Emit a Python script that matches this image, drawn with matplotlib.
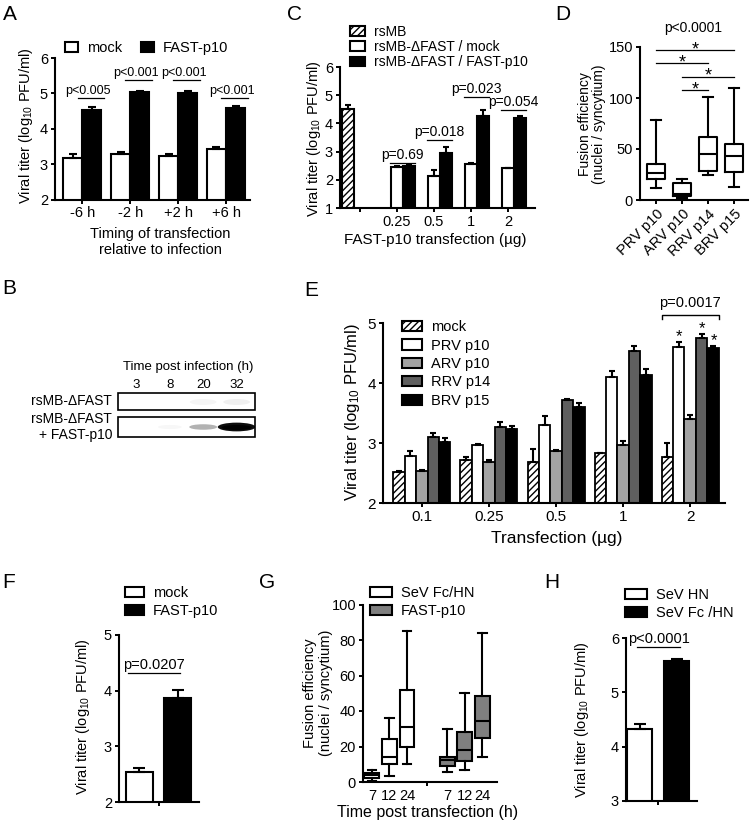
import numpy as np
import matplotlib
matplotlib.use('Agg')
import matplotlib.pyplot as plt
from matplotlib.patches import Patch, Rectangle, Ellipse

plt.rcParams['font.family'] = ['Liberation Sans', 'DejaVu Sans']
plt.rcParams['mathtext.default'] = 'regular'
plt.rcParams['hatch.linewidth'] = 1.0
plt.rcParams['axes.linewidth'] = 1.5

W, H = 750, 825

# ---------------- data ----------------
a_times = ['-6 h', '-2 h', '+2 h', '+6 h']
a_mock = [3.18, 3.30, 3.22, 3.42]
a_mock_err = [0.10, 0.03, 0.07, 0.05]
a_fast = [4.53, 5.05, 5.02, 4.60]
a_fast_err = [0.08, 0.03, 0.05, 0.03]
a_pvals = ['p<0.005', 'p<0.001', 'p<0.001', 'p<0.001']
a_pline = [4.87, 5.38, 5.38, 4.87]

b_lanes = ['3', '8', '20', '32']
b_row1 = [0.0, 0.0, 0.04, 0.06]
b_row2 = [0.0, 0.03, 0.30, 0.95]

c_doses = ['0.25', '0.5', '1', '2']
c_rsmb = 4.50
c_rsmb_err = 0.15
c_mock = [2.45, 2.15, 2.55, 2.43]
c_mock_err = [0.04, 0.20, 0.04, 0.0]
c_fast = [2.48, 2.95, 4.28, 4.20]
c_fast_err = [0.04, 0.20, 0.20, 0.08]
c_pvals = ['p=0.69', 'p=0.018', 'p=0.023', 'p=0.054']
c_pline = [2.60, 3.41, 4.93, 4.48]

d_names = ['PRV p10', 'ARV p10', 'RRV p14', 'BRV p15']
d_whislo = [12, 2, 25, 13]
d_q1 = [21, 4, 28, 27]
d_med = [26, 6, 45, 43]
d_q3 = [35, 17, 62, 55]
d_whishi = [78, 21, 101, 110]
d_pairs = [(0, 3), (0, 2), (1, 3), (1, 2)]
d_pair_y = [147, 134, 121, 108]

e_doses = ['0.1', '0.25', '0.5', '1', '2']
e_series = ['mock', 'PRV p10', 'ARV p10', 'RRV p14', 'BRV p15']
e_mock = [2.52, 2.72, 2.68, 2.83, 2.77]
e_mock_err = [0.02, 0.05, 0.22, 0.01, 0.23]
e_prv = [2.78, 2.96, 3.30, 4.10, 4.60]
e_prv_err = [0.08, 0.03, 0.15, 0.10, 0.08]
e_arv = [2.53, 2.68, 2.86, 2.97, 3.40]
e_arv_err = [0.02, 0.04, 0.02, 0.07, 0.06]
e_rrv = [3.10, 3.27, 3.72, 4.53, 4.75]
e_rrv_err = [0.07, 0.08, 0.02, 0.09, 0.06]
e_brv = [3.01, 3.23, 3.60, 4.14, 4.58]
e_brv_err = [0.08, 0.05, 0.07, 0.10, 0.03]
e_starred = [1, 3, 4]  # series with * at 2 ug

f_groups = ['mock', 'FAST-p10']
f_vals = [2.53, 3.87]
f_err = [0.08, 0.15]

g_hours = ['7', '12', '24']
g_sev_whislo = [0.5, 3.5, 10]
g_sev_q1 = [2, 10, 19.5]
g_sev_med = [4, 14, 31]
g_sev_q3 = [5, 24, 52]
g_sev_whishi = [6.5, 36, 85]
g_fast_whislo = [5.4, 6.5, 14]
g_fast_q1 = [9, 12, 25]
g_fast_med = [12.5, 18, 34.5]
g_fast_q3 = [14, 28, 48.5]
g_fast_whishi = [30, 50, 84]

h_groups = ['SeV HN', 'SeV Fc /HN']
h_vals = [4.32, 5.57]
h_err = [0.10, 0.05]

ylab_titer = 'Viral titer (log$_{10}$ PFU/ml)'
ylab_fusion = 'Fusion efficiency\n(nuclei / syncytium)'

# ---------------- helpers ----------------
fig = plt.figure(figsize=(7.5, 8.25), dpi=100)


def px_axes(l, t, r, b):
    return fig.add_axes([l / W, 1 - b / H, (r - l) / W, (b - t) / H])


def ftext(x, y, s, **kw):
    fig.text(x / W, 1 - y / H, s, **kw)


def style(ax, fs=10.5):
    ax.spines['top'].set_visible(False)
    ax.spines['right'].set_visible(False)
    ax.tick_params(direction='out', width=1.4, length=3, labelsize=fs, pad=2)


def upper_err(ax, x, y, err, cap=3):
    err = np.asarray(err, dtype=float)
    ax.errorbar(x, y, yerr=[np.zeros_like(err), err], fmt='none', ecolor='k',
                elinewidth=1.5, capsize=cap, capthick=1.5, zorder=3)


def pline(ax, x0, x1, y, label, fs=10, xt=None):
    ax.plot([x0, x1], [y, y], color='k', lw=0.9, clip_on=False)
    xt = (x0 + x1) / 2 if xt is None else xt
    ax.annotate(label, xy=(xt, y), xytext=(0, 3), textcoords='offset points',
                ha='center', va='baseline', fontsize=fs, annotation_clip=False)


def legend(ax, handles, x, y, fs, hl, hh, ls, ncol=1, cs=1.0):
    ax.legend(handles=handles, loc='center left', bbox_to_anchor=(x / W, 1 - y / H),
              bbox_transform=fig.transFigure, frameon=False, fontsize=fs, ncol=ncol,
              handlelength=hl, handleheight=hh, handletextpad=0.6, labelspacing=ls,
              columnspacing=cs, borderpad=0, borderaxespad=0)


def box(fc, label, hatch=None):
    return Patch(facecolor=fc, edgecolor='k', lw=1.5, hatch=hatch, label=label)


# ---------------- panel A ----------------
ax = px_axes(55, 58, 250, 199.5)
x = np.arange(len(a_times))
ax.bar(x - 0.2, a_mock, 0.4, color='white', edgecolor='k', lw=1.5, zorder=2)
ax.bar(x + 0.2, a_fast, 0.4, color='k', edgecolor='k', lw=1.5, zorder=2)
upper_err(ax, x - 0.2, a_mock, a_mock_err)
upper_err(ax, x + 0.2, a_fast, a_fast_err)
ax.set_ylim(2, 6)
ax.set_xlim(-0.57, 3.5)
ax.set_yticks([2, 3, 4, 5, 6])
ax.set_xticks(x, a_times)
style(ax)
for i in range(len(x)):
    pline(ax, i - 0.1, i + 0.45, a_pline[i], a_pvals[i], fs=9, xt=i + 0.12)
legend(ax, [box('white', 'mock'), box('k', 'FAST-p10')], 65, 48, 10.5, 0.9, 0.75, 0.2, ncol=2, cs=1.3)
ftext(26, 126, ylab_titer, rotation=90, ha='center', va='center', fontsize=10.5)
ftext(160, 242, 'Timing of transfection\nrelative to infection', ha='center', va='center', fontsize=10.5)

# ---------------- panel B (blot) ----------------
ax = px_axes(118, 393, 255, 437)
ax.set_xlim(-0.55, 3.55)
ax.set_ylim(44, 0)
ax.axis('off')
ax.add_patch(Rectangle((-0.55, 0), 4.1, 17, fill=False, lw=1.2, clip_on=False))
ax.add_patch(Rectangle((-0.55, 24), 4.1, 20, fill=False, lw=1.2, clip_on=False))
for i, v in enumerate(b_row1):
    if v > 0:
        ax.add_patch(Ellipse((i, 9), 0.8, 6, color='k', alpha=v, lw=0))
for i, v in enumerate(b_row2):
    if v > 0:
        ax.add_patch(Ellipse((i, 34), 0.7 + 0.45 * v, 4 + 5 * v, color='k', alpha=v, lw=0))
        if v > 0.5:
            ax.add_patch(Ellipse((i, 34.5), 0.9, 5, color='k', lw=0))
for i, lab in enumerate(b_lanes):
    ax.text(i, -2, lab, ha='center', va='bottom', fontsize=9.5)
ftext(188, 367, 'Time post infection (h)', ha='center', va='center', fontsize=9.5)
ftext(112, 401, 'rsMB-\u0394FAST', ha='right', va='center', fontsize=10)
ftext(112, 427, 'rsMB-\u0394FAST\n+ FAST-p10', ha='right', va='center', fontsize=10, multialignment='right')

# ---------------- panel C ----------------
ax = px_axes(340, 67, 535, 208)
bw = 0.32
xc = np.arange(1, len(c_doses) + 1)
ax.bar([-bw], [c_rsmb], bw, color='white', edgecolor='k', lw=1.5, hatch='/////', zorder=2)
ax.bar(xc, c_mock, bw, color='white', edgecolor='k', lw=1.5, zorder=2)
ax.bar(xc + bw, c_fast, bw, color='k', edgecolor='k', lw=1.5, zorder=2)
upper_err(ax, [-bw], [c_rsmb], [c_rsmb_err], cap=2.5)
upper_err(ax, xc, c_mock, c_mock_err, cap=2.5)
upper_err(ax, xc + bw, c_fast, c_fast_err, cap=2.5)
ax.set_ylim(1, 6)
ax.set_xlim(-0.54, 4.73)
ax.set_yticks([1, 2, 3, 4, 5, 6])
ax.set_xticks([0] + list(xc), [''] + c_doses)
style(ax, 10.5)
for i, xi in enumerate(xc):
    pline(ax, xi - 0.2, xi + 0.5, c_pline[i], c_pvals[i])
legend(ax, [box('white', 'rsMB', '/////'), box('white', 'rsMB-\u0394FAST / mock'),
            box('k', 'rsMB-\u0394FAST / FAST-p10')], 350, 47, 10, 1.1, 0.7, 0.1)
ftext(314, 139, ylab_titer, rotation=90, ha='center', va='center', fontsize=10.5)
ftext(435, 240, 'FAST-p10 transfection (\u00b5g)', ha='center', va='center', fontsize=11)

# ---------------- panel D ----------------
ax = px_axes(640, 47, 748, 200)
stats = [dict(whislo=d_whislo[i], q1=d_q1[i], med=d_med[i], q3=d_q3[i], whishi=d_whishi[i],
              fliers=[], label=d_names[i]) for i in range(len(d_names))]
lp = dict(color='k', lw=1.5)
ax.bxp(stats, positions=range(len(d_names)), widths=0.68, capwidths=0.4, showfliers=False,
       boxprops=lp, whiskerprops=lp, capprops=lp, medianprops=lp)
ax.set_ylim(0, 150)
ax.set_xlim(-0.62, 3.54)
ax.set_yticks([0, 50, 100, 150])
style(ax)
ax.set_xticks(range(len(d_names)), d_names, rotation=45, ha='right', rotation_mode='anchor')
for (a, b), y in zip(d_pairs, d_pair_y):
    ax.plot([a, b], [y, y], color='k', lw=0.9, clip_on=False)
    ax.annotate('*', xy=((a + b) / 2, y), xytext=(0, -3), textcoords='offset points',
                ha='center', va='baseline', fontsize=13, annotation_clip=False)
ftext(693, 28, 'p<0.0001', ha='center', va='center', fontsize=10)
ftext(592, 124, ylab_fusion, rotation=90, ha='center', va='center', fontsize=10, linespacing=1.05)

# ---------------- panel E ----------------
ax = px_axes(383, 323, 725, 503)
ew = 0.17
xe = np.arange(len(e_doses))
e_vals = [e_mock, e_prv, e_arv, e_rrv, e_brv]
e_errs = [e_mock_err, e_prv_err, e_arv_err, e_rrv_err, e_brv_err]
e_colors = ['white', 'white', '#a3a3a3', '#5f5f5f', 'black']
e_hatch = ['/////', None, None, None, None]
for k in range(len(e_series)):
    xs = xe + (k - 2) * ew
    ax.bar(xs, e_vals[k], ew, color=e_colors[k], edgecolor='k', lw=1.3, hatch=e_hatch[k], zorder=2)
    upper_err(ax, xs, e_vals[k], e_errs[k], cap=2)
for k in e_starred:
    top = e_vals[k][-1] + e_errs[k][-1]
    ax.annotate('*', xy=(xe[-1] + (k - 2) * ew, top), xytext=(1 if k == 4 else 0, 1),
                textcoords='offset points', ha='center', va='baseline', fontsize=12,
                annotation_clip=False)
bx0, bx1 = xe[-1] - 2.5 * ew, xe[-1] + 2.5 * ew
ax.plot([bx0, bx0, bx1, bx1], [5.07, 5.13, 5.13, 5.07], color='k', lw=1.0, clip_on=False)
ax.annotate('p=0.0017', xy=(xe[-1], 5.13), xytext=(0, 6), textcoords='offset points',
            ha='center', va='baseline', fontsize=10.5, annotation_clip=False)
ax.set_ylim(2, 5)
ax.set_xlim(-0.58, 4.52)
ax.set_yticks([2, 3, 4, 5])
ax.set_xticks(xe, e_doses)
style(ax, 11)
legend(ax, [box(c, s, h) for c, s, h in zip(e_colors, e_series, e_hatch)], 402, 364, 10.5, 1.4, 0.7, 0.3)
ftext(352, 412, ylab_titer, rotation=90, ha='center', va='center', fontsize=12)
ftext(557, 538, 'Transfection (\u00b5g)', ha='center', va='center', fontsize=12.5)

# ---------------- panel F ----------------
ax = px_axes(119, 635, 199, 802)
ax.bar([0, 1], f_vals, 0.7, color=['white', 'k'], edgecolor='k', lw=1.5, zorder=2)
upper_err(ax, [0, 1], f_vals, f_err, cap=4)
ax.set_ylim(2, 5)
ax.set_xlim(-0.53, 1.55)
ax.set_yticks([2, 3, 4, 5])
ax.set_xticks([0.5], [''])
style(ax)
pline(ax, -0.3, 1.05, 4.32, 'p=0.0207', fs=10.5)
legend(ax, [box('white', f_groups[0]), box('k', f_groups[1])], 125, 602, 10.5, 1.3, 0.7, 0.25)
ftext(83, 717, ylab_titer, rotation=90, ha='center', va='center', fontsize=10.5)

# ---------------- panel G ----------------
ax = px_axes(363, 604.5, 497, 782)
g_pos_sev = [0, 1, 2]
g_pos_fast = [4.3, 5.3, 6.3]
for pos, lo, q1, md, q3, hi, fc in [
        (g_pos_sev, g_sev_whislo, g_sev_q1, g_sev_med, g_sev_q3, g_sev_whishi, 'white'),
        (g_pos_fast, g_fast_whislo, g_fast_q1, g_fast_med, g_fast_q3, g_fast_whishi, '#7f7f7f')]:
    st = [dict(whislo=lo[i], q1=q1[i], med=md[i], q3=q3[i], whishi=hi[i], fliers=[])
          for i in range(len(g_hours))]
    ax.bxp(st, positions=pos, widths=0.85, capwidths=0.5, showfliers=False, patch_artist=True,
           boxprops=dict(facecolor=fc, edgecolor='k', lw=1.5), whiskerprops=lp, capprops=lp,
           medianprops=lp, manage_ticks=False)
ax.set_ylim(0, 100)
ax.set_xlim(-0.51, 7.14)
ax.set_yticks([0, 20, 40, 60, 80, 100])
style(ax)
ax.set_xticks([3.15], [''])
ax.set_xticks(g_pos_sev + g_pos_fast, g_hours + g_hours, minor=True)
ax.tick_params(axis='x', which='minor', length=0, labelsize=10.5, pad=5)
legend(ax, [box('white', 'SeV Fc/HN'), box('#7f7f7f', 'FAST-p10')], 370, 602, 10.5, 1.5, 0.7, 0.25)
ftext(318, 693, ylab_fusion, rotation=90, ha='center', va='center', fontsize=10.5)
ftext(428, 813, 'Time post transfection (h)', ha='center', va='center', fontsize=11.5)

# ---------------- panel H ----------------
ax = px_axes(626, 638, 697, 801)
ax.bar([0, 1], h_vals, 0.68, color=['white', 'k'], edgecolor='k', lw=1.5, zorder=2)
upper_err(ax, [0, 1], h_vals, h_err, cap=4)
ax.set_ylim(3, 6)
ax.set_xlim(-0.38, 1.56)
ax.set_yticks([3, 4, 5, 6])
ax.set_xticks([0.5], [''])
style(ax)
pline(ax, -0.08, 1.1, 5.83, 'p<0.0001', fs=10.5)
legend(ax, [box('white', h_groups[0]), box('k', h_groups[1])], 625, 604, 10.5, 1.5, 0.7, 0.25)
ftext(582, 720, ylab_titer, rotation=90, ha='center', va='center', fontsize=10.5)

# ---------------- panel letters ----------------
for lab, xx, yy in [('A', 10, 14), ('B', 9, 289), ('C', 294, 14), ('D', 563, 14),
                    ('E', 311, 290), ('F', 9, 582), ('G', 267, 582), ('H', 552, 582)]:
    ftext(xx, yy, lab, ha='center', va='center', fontsize=15)

fig.savefig('out.png', dpi=100)
